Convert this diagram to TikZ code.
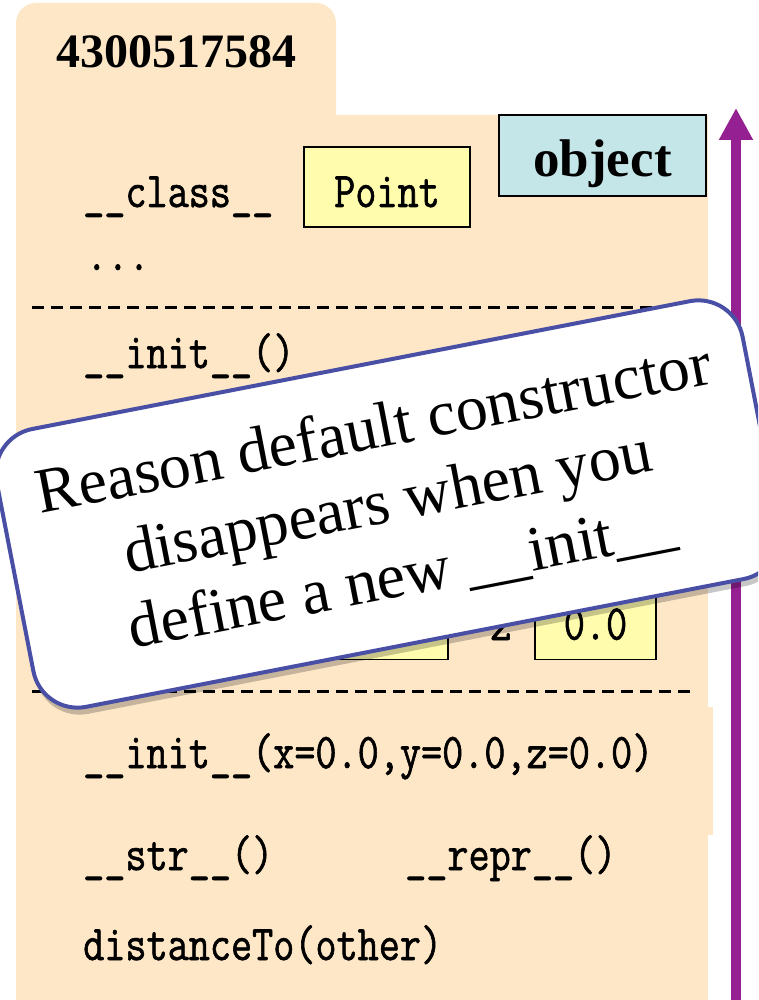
\documentclass[tikz,border=0pt]{standalone}
\usepackage{fontspec}
\setmainfont{Liberation Serif}
\newfontfamily\codefont[FakeBold=1.2, FakeStretch=0.82]{Latin Modern Mono}
\usepackage{tikz}
\usetikzlibrary{arrows.meta, positioning, shadows}
\definecolor{objpeach}{HTML}{FDE7C7}
\definecolor{fieldyellow}{HTML}{FFFCAE}
\definecolor{clsblue}{HTML}{C5E6E8}
\definecolor{noteblue}{HTML}{4A4FA6}
\definecolor{supviolet}{HTML}{942091}

\begin{document}
\begin{tikzpicture}[x=1pt, y=-1pt,
    attr/.style={anchor=base west, inner sep=0pt, font=\fontsize{50}{56}\selectfont\codefont},
    valbox/.style={draw=black, line width=1.3pt, fill=fieldyellow, minimum width=121pt, minimum height=80pt,
        inner sep=0pt, text height=40pt, text depth=0pt, font=\fontsize{50}{56}\selectfont\codefont},
    clsbox/.style={draw=black, line width=1.3pt, fill=clsblue, minimum width=207pt, minimum height=81pt,
        inner sep=0pt, text height=43pt, text depth=0pt, font=\fontsize{53}{60}\selectfont\bfseries},
    sepline/.style={dash pattern=on 12pt off 7pt, line width=3pt},
    note/.style={draw=noteblue, line width=4pt, fill=white, rounded corners=45pt,
        minimum width=760pt, minimum height=283pt, align=center,
        font=\fontsize{64}{75}\selectfont,
        drop shadow={shadow xshift=2pt, shadow yshift=-7pt, opacity=0.22, fill=black}},
]
    \useasboundingbox (0,0) rectangle (758,1000);
    \clip (0,0) rectangle (758,1000);

    % object folder
    \fill[objpeach, rounded corners=20pt] (16,3) rectangle (336,150);
    \fill[objpeach] (16,115) rectangle (708,1000);
    \fill[objpeach] (706,707) rectangle (713,835);
    \node[font=\fontsize{48}{56}\selectfont\bfseries, anchor=base] (objid) at (176,68) {4300517584};

    % header part
    \node[attr] (classattr) at (83,207) {\_\_class\_\_};
    \node[valbox, minimum width=166pt] (classval) at (387,187) {Point};
    \node[clsbox] (objcls) at (602.5,155.5) {object};
    \node[attr] (more) at (86,270) {...};

    % separators
    \coordinate (sepAw) at (32,307);
    \coordinate (sepAe) at (692,307);
    \coordinate (sepBw) at (32,691);
    \coordinate (sepBe) at (692,691);
    \draw[sepline] (sepAw) -- (sepAe);
    \draw[sepline] (sepBw) -- (sepBe);

    % fields
    \node[attr] (initold) at (83,368) {\_\_init\_\_()};
    \node[valbox] (yval) at (387.5,619.5) {0.0};
    \node[attr, anchor=base] (zname) at (501,640) {z};
    \node[valbox] (zval) at (595.5,619.5) {0.0};

    % methods
    \node[attr] (initnew) at (83,768) {\_\_init\_\_(x=0.0,y=0.0,z=0.0)};
    \node[attr] (strm) at (83,870) {\_\_str\_\_()};
    \node[attr] (reprm) at (405,870) {\_\_repr\_\_()};
    \node[attr] (distm) at (83,960) {distanceTo(other)};

    % superclass arrow
    \coordinate (supbot) at (736,1010);
    \coordinate (suptop) at (736,108);
    \draw[supviolet, line width=10pt, -{Triangle[width=32pt, length=32pt]}] (supbot) -- (suptop);

    % callout
    \node[note, rotate=11] (reason) at (388,504)
        {Reason default constructor\\disappears when you\\define a new \_\_init\_\_};
\end{tikzpicture}
\end{document}
